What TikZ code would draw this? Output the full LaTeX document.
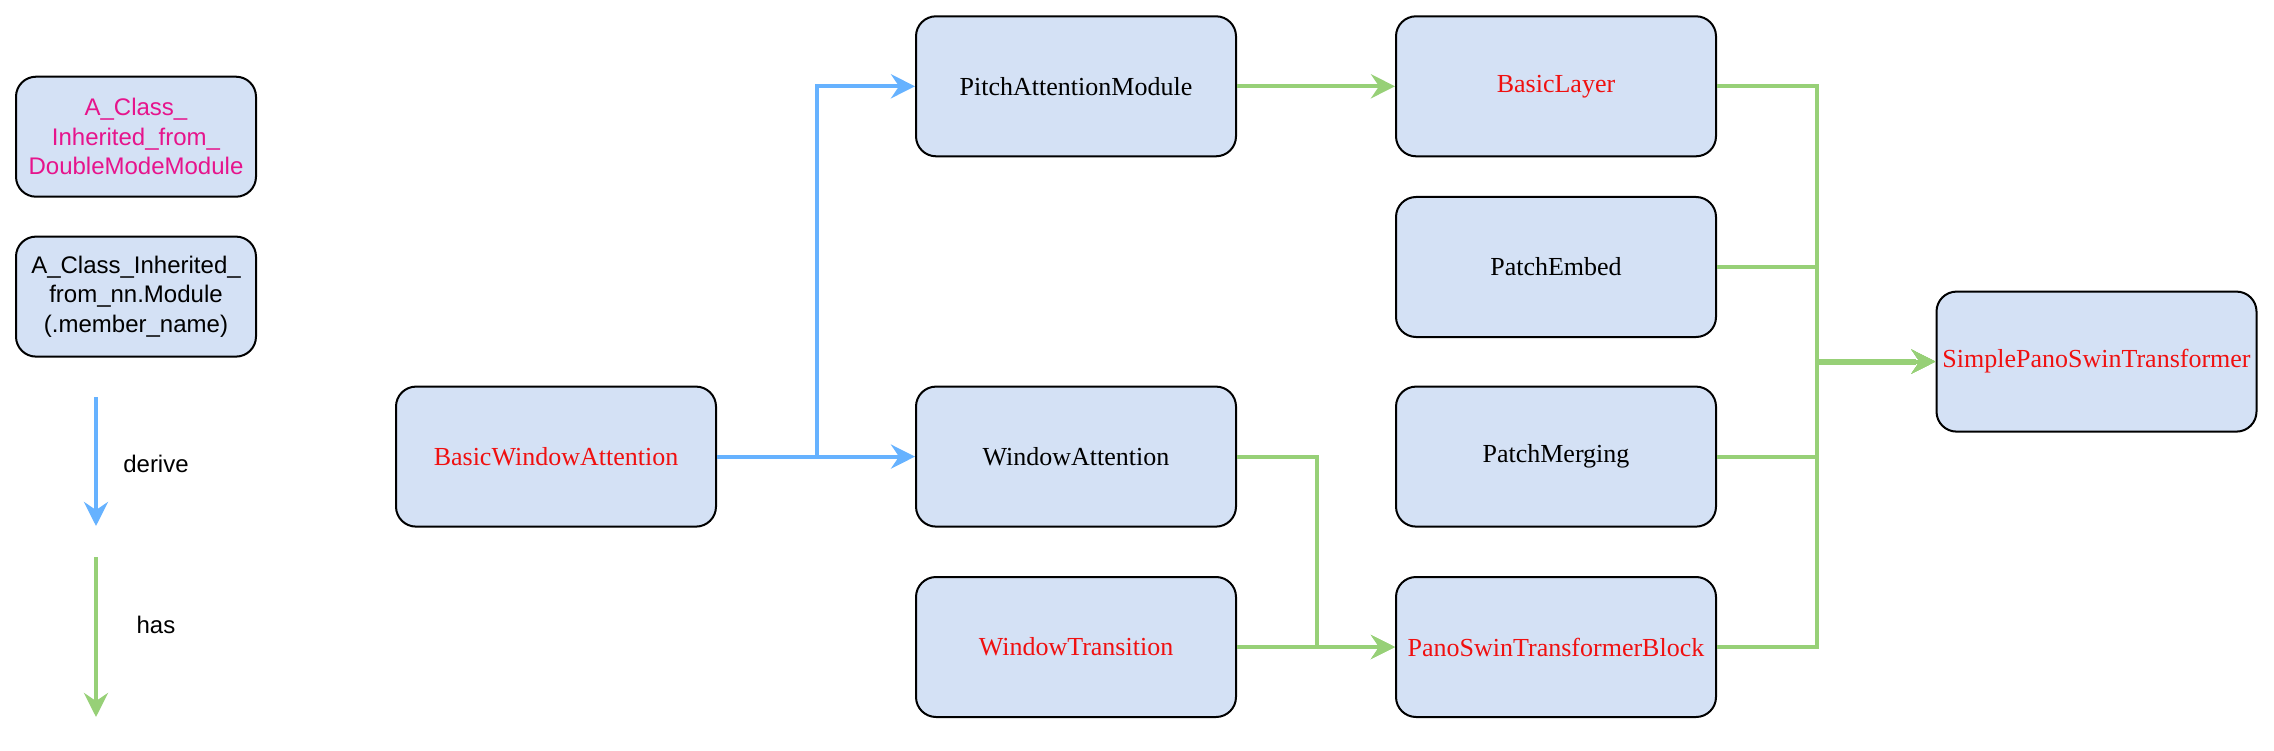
\documentclass[tikz,border=0pt]{standalone}
\usepackage{fontspec}
\setmainfont{Liberation Serif}
\newfontfamily\arialf{Liberation Sans}
\usetikzlibrary{arrows.meta}
\definecolor{boxfill}{HTML}{D4E1F5}
\definecolor{derblue}{HTML}{66B2FF}
\definecolor{hasgreen}{HTML}{97D077}
\definecolor{redtxt}{HTML}{F01010}
\definecolor{magtxt}{RGB}{230,20,140}
\tikzset{
  cls/.style={draw=black, line width=2pt, fill=boxfill, rounded corners=20pt,
    minimum width=320pt, minimum height=140pt, inner sep=0pt, align=center,
    font=\fontsize{26}{31}\selectfont},
  legbox/.style={draw=black, line width=2pt, fill=boxfill, rounded corners=20pt,
    minimum width=240pt, minimum height=120pt, inner sep=0pt, align=center,
    font=\arialf\fontsize{24}{29.5}\selectfont},
  red/.style={text=redtxt},
  tip/.style={-{Stealth[length=24pt,width=24pt,inset=8pt]}},
  derive/.style={draw=derblue, line width=4pt, tip},
  hasl/.style={draw=hasgreen, line width=4pt, tip},
  lbl/.style={font=\arialf\fontsize{24}{29}\selectfont, fill=white, inner sep=1pt}
}
\begin{document}
\begin{tikzpicture}[x=1pt,y=-1pt]
\useasboundingbox (0,0) rectangle (2274,751);
% legend
\node[legbox, text=magtxt] (leg1) at (136,136.7) {A\_Class\_\\Inherited\_from\_\\DoubleModeModule};
\node[legbox] (leg2) at (136,296.6) {A\_Class\_Inherited\_\\from\_nn.Module\\(.member\_name)};
\coordinate (d1) at (96,397);
\coordinate (d2) at (96,526);
\coordinate (h1) at (96,557);
\coordinate (h2) at (96,717);
\draw[derive] (d1) -- (d2);
\draw[hasl] (h1) -- (h2);
\node[lbl] (lder) at (156,464) {derive};
\node[lbl] (lhas) at (156,624.5) {has};
% nodes
\node[cls, red] (bwa) at (556,456.6) {BasicWindowAttention};
\node[cls] (pam) at (1076,86.3) {PitchAttentionModule};
\node[cls] (wa) at (1076,456.6) {WindowAttention};
\node[cls, red] (wt) at (1076,647) {WindowTransition};
\node[cls, red] (bl) at (1556,86.3) {BasicLayer};
\node[cls] (pe) at (1556,267) {PatchEmbed};
\node[cls] (pm) at (1556,456.6) {PatchMerging};
\node[cls, red] (psb) at (1556,647) {PanoSwinTransformerBlock};
\node[cls, red] (spst) at (2096.5,361.6) {SimplePanoSwinTransformer};
% derive edges
\draw[derive] (bwa.east) -- (wa.west);
\draw[derive] (bwa.east) -- ++(100,0) |- (pam.west);
% has edges
\draw[hasl] (pam.east) -- (bl.west);
\draw[hasl] (wa.east) -- ++(80,0) |- (psb.west);
\draw[hasl] (wt.east) -- (psb.west);
\draw[hasl] (bl.east) -- ++(100,0) |- (spst.west);
\draw[hasl] (pe.east) -- ++(100,0) |- (spst.west);
\draw[hasl] (pm.east) -- ++(100,0) |- (spst.west);
\draw[hasl] (psb.east) -- ++(100,0) |- (spst.west);
\draw[draw=hasgreen, line width=6pt] (spst.west) ++(-120,0) -- ++(100,0);
\end{tikzpicture}
\end{document}
